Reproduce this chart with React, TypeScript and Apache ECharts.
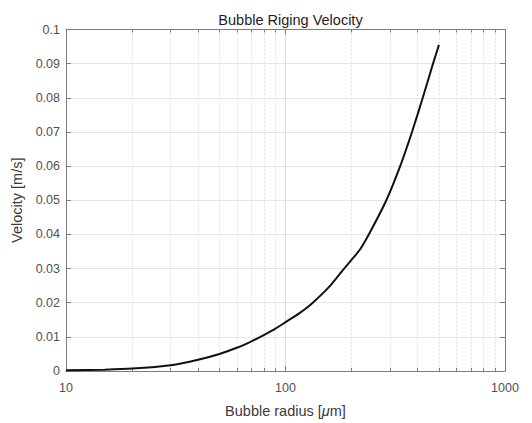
import React, { useEffect, useRef } from "react";
import * as echarts from "echarts";

// Bubble radius in micrometres and the matching rise velocity in m/s
const radius = [10, 15, 20, 30, 40, 50, 60, 70, 80, 90, 100, 115, 132, 160, 185, 218, 242, 288, 333, 377, 422, 470, 500];
const velocity = [
  0.0002, 0.0004, 0.0007, 0.0017, 0.0033, 0.005, 0.0068, 0.0087, 0.0106, 0.0124, 0.0143, 0.0168, 0.0198, 0.025,
  0.03, 0.0355, 0.0405, 0.05, 0.06, 0.07, 0.08, 0.09, 0.0955,
];

const xMin = 10;
const xMax = 1000;
const yMin = 0;
const yMax = 0.1;
const yStep = 0.01;

const FONT = "Liberation Sans, Arial, sans-serif";
const FRAME = "#7c7c7c";
const LABEL = "#505050";

export default function App() {
  const ref = useRef<HTMLDivElement>(null);

  useEffect(() => {
    if (!ref.current) return;
    const chart = echarts.init(ref.current, undefined, { renderer: "svg" });

    const logAxisCommon = {
      type: "log" as const,
      logBase: 10,
      min: xMin,
      max: xMax,
      axisLine: { show: true, onZero: false, lineStyle: { color: FRAME, width: 1 } },
      axisTick: { show: true, inside: true, length: 5, lineStyle: { color: FRAME } },
      minorTick: { show: true, splitNumber: 9, length: 3, lineStyle: { color: FRAME } },
    };
    const valAxisCommon = {
      type: "value" as const,
      min: yMin,
      max: yMax,
      interval: yStep,
      axisLine: { show: true, onZero: false, lineStyle: { color: FRAME, width: 1 } },
      axisTick: { show: true, inside: true, length: 5, lineStyle: { color: FRAME } },
    };

    chart.setOption({
      animation: false,
      backgroundColor: "#ffffff",
      title: {
        text: "Bubble Riging Velocity",
        left: 285.5,
        textAlign: "center",
        top: 7,
        textStyle: { fontFamily: FONT, fontSize: 14.5, fontWeight: "normal", color: "#1e1e1e" },
      },
      grid: { left: 66, right: 27, top: 29.5, bottom: 46, containLabel: false },
      xAxis: [
        {
          ...logAxisCommon,
          position: "bottom",
          axisLabel: { fontFamily: FONT, fontSize: 12.5, color: LABEL, margin: 10, formatter: (v: number) => String(v) },
          splitLine: { show: true, lineStyle: { color: "#dcdcdc", width: 1, type: "solid" } },
          minorSplitLine: { show: true, lineStyle: { color: "#e0e0e0", width: 1, type: [2, 2] } },
          name: "{a|Bubble radius [}{m|μ}{a|m]}",
          nameLocation: "middle",
          nameGap: 32,
          nameTextStyle: {
            rich: {
              a: { fontFamily: FONT, fontSize: 14.5, color: "#3a3a3a" },
              m: { fontFamily: FONT, fontSize: 14.5, color: "#3a3a3a", fontStyle: "italic" },
            },
          },
        },
        {
          ...logAxisCommon,
          position: "top",
          axisLabel: { show: false },
          splitLine: { show: false },
        },
      ],
      yAxis: [
        {
          ...valAxisCommon,
          position: "left",
          axisLabel: { fontFamily: FONT, fontSize: 12.5, color: LABEL, margin: 6 },
          splitLine: { show: true, lineStyle: { color: "#e6e6e6", width: 1 } },
          name: "Velocity [m/s]",
          nameLocation: "middle",
          nameGap: 38,
          nameTextStyle: { fontFamily: FONT, fontSize: 14.5, color: "#3a3a3a" },
        },
        {
          ...valAxisCommon,
          position: "right",
          axisLabel: { show: false },
          splitLine: { show: false },
        },
      ],
      series: [
        {
          type: "line",
          xAxisIndex: 0,
          yAxisIndex: 0,
          data: radius.map((r, i) => [r, velocity[i]]),
          showSymbol: false,
          smooth: 0.2,
          lineStyle: { color: "#111111", width: 2 },
        },
      ],
    });

    return () => chart.dispose();
  }, []);

  return <div ref={ref} style={{ position: "fixed", left: 0, top: 0, width: 532, height: 423 }} />;
}
